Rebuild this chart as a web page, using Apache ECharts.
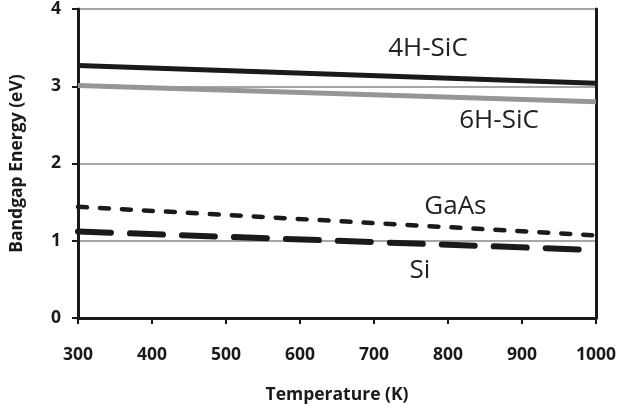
<!DOCTYPE html>
<html>
<head>
<meta charset="utf-8">
<script src="https://cdn.jsdelivr.net/npm/echarts@6/dist/echarts.min.js"></script>
<style>html,body{margin:0;padding:0;background:#fff}#c{width:619px;height:411px}</style>
</head>
<body>
<div id="c"></div>
<script>
// Data
const temps = [300, 1000];
const sic4h = [3.27, 3.04];
const sic6h = [3.01, 2.80];
const gaas = [1.44, 1.07];
const si = [1.12, 0.88];
const xTicks = [300, 400, 500, 600, 700, 800, 900, 1000];
const yTicks = [0, 1, 2, 3, 4];
const seriesNames = ['4H-SiC', '6H-SiC', 'GaAs', 'Si'];
// annotation anchor points (data space)
const labelAt = {
  '4H-SiC': [773, 3.49],
  '6H-SiC': [869, 2.56],
  'GaAs': [810, 1.44],
  'Si': [762, 0.62]
};

const chart = echarts.init(document.getElementById('c'));
const font = '"Open Sans", sans-serif';
const ink = '#1a1a1a';
function pts(vals){ return temps.map((t,i)=>[t, vals[i]]); }
function mk(name){
  return {
    silent: true,
    symbol: 'circle', symbolSize: 0,
    label: { show: true, position: 'inside', formatter: name, fontFamily: font, fontSize: 26, color: '#222' },
    data: [{ coord: labelAt[name] }]
  };
}
const styles = [
  { color: ink, width: 5, type: 'solid' },
  { color: '#969696', width: 5, type: 'solid' },
  { color: ink, width: 4.5, type: [9, 13], cap: 'round' },
  { color: ink, width: 6, type: [33, 19], cap: 'round' }
];
const vals = [sic4h, sic6h, gaas, si];
const series = seriesNames.map((n, i) => ({
  name: n, type: 'line', data: pts(vals[i]), showSymbol: false, symbol: 'none',
  lineStyle: { color: styles[i].color, width: styles[i].width, type: styles[i].type, cap: styles[i].cap || 'butt' },
  z: 3 + (3 - i),
  markPoint: mk(n)
}));

chart.setOption({
  animation: false,
  grid: { left: 73, right: 21, top: 8, bottom: 93 },
  xAxis: [{
    type: 'value', min: xTicks[0], max: xTicks[xTicks.length-1], interval: 100,
    name: 'Temperature (K)', nameLocation: 'middle', nameGap: 68,
    nameTextStyle: { fontFamily: font, fontWeight: 'bold', fontSize: 17.5, color: ink },
    axisLine: { show: true, onZero: false, lineStyle: { color: ink, width: 3 } },
    axisTick: { show: true, length: 6, lineStyle: { color: ink, width: 2 } },
    axisLabel: { margin: 28, fontFamily: font, fontWeight: 'bold', fontSize: 17.5, color: ink, formatter: v => String(v) },
    splitLine: { show: false }
  }, {
    type: 'value', position: 'top', min: 300, max: 1000,
    axisLine: { show: true, lineStyle: { color: ink, width: 3 } },
    axisTick: { show: false }, axisLabel: { show: false }, splitLine: { show: false }
  }],
  yAxis: [{
    type: 'value', min: yTicks[0], max: yTicks[yTicks.length-1], interval: 1,
    name: 'Bandgap Energy (eV)', nameLocation: 'middle', nameGap: 52,
    nameTextStyle: { fontFamily: font, fontWeight: 'bold', fontSize: 17.5, color: ink },
    axisLine: { show: true, onZero: false, lineStyle: { color: ink, width: 3 } },
    axisTick: { show: true, length: 6, lineStyle: { color: ink, width: 2 } },
    axisLabel: { margin: 17, fontFamily: font, fontWeight: 'bold', fontSize: 17.5, color: ink },
    splitLine: { show: true, lineStyle: { color: '#a6a6a6', width: 2 } }
  }, {
    type: 'value', position: 'right', min: 0, max: 4,
    axisLine: { show: true, lineStyle: { color: ink, width: 3 } },
    axisTick: { show: false }, axisLabel: { show: false }, splitLine: { show: false }
  }],
  series: series
});
</script>
</body>
</html>
